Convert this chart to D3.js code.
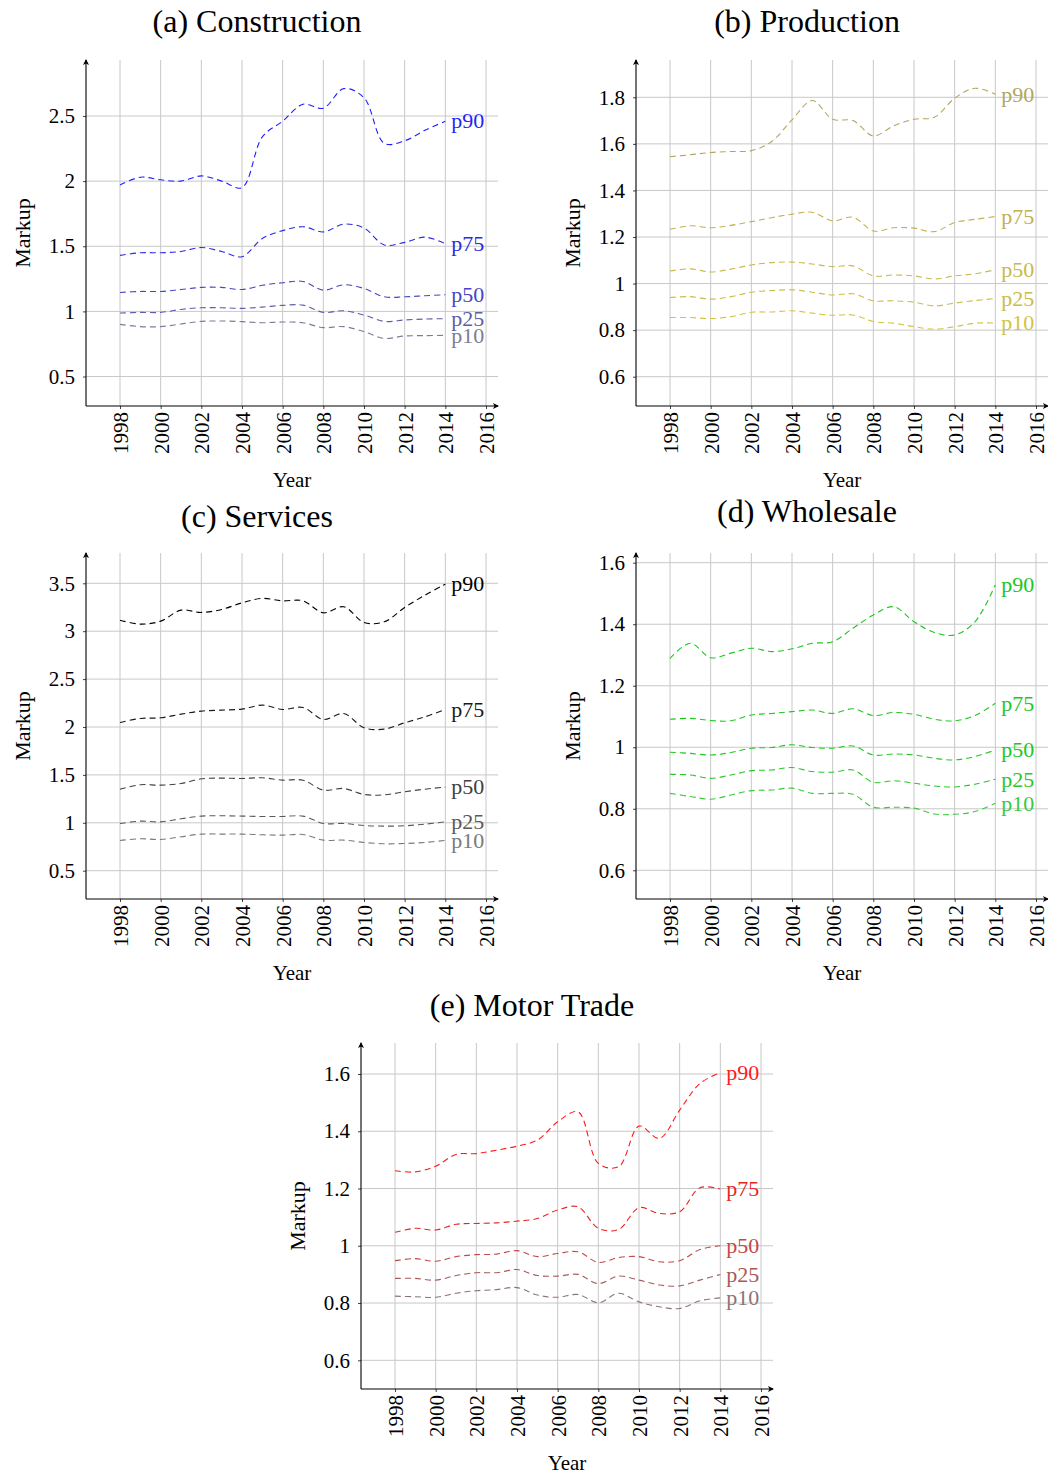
<!DOCTYPE html>
<html>
<head>
<meta charset="utf-8">
<script src="https://cdn.jsdelivr.net/npm/d3@7"></script>
<style>
  body { margin: 0; background: #fff; }
  text { font-family: "Liberation Serif", "Times New Roman", serif; }
</style>
</head>
<body>
<div id="chart"></div>
<script>
// Data
const years = [1998, 1999, 2000, 2001, 2002, 2003, 2004, 2005, 2006, 2007, 2008, 2009, 2010, 2011, 2012, 2013, 2014];
const xTicks = [1998, 2000, 2002, 2004, 2006, 2008, 2010, 2012, 2014, 2016];
const percentiles = ["p10", "p25", "p50", "p75", "p90"];

// (a) Construction
const construction_p90 = [1.97, 2.03, 2.01, 2.00, 2.04, 2.00, 1.95, 2.34, 2.46, 2.59, 2.56, 2.71, 2.64, 2.29, 2.31, 2.39, 2.46];
const construction_p75 = [1.43, 1.45, 1.45, 1.46, 1.49, 1.46, 1.42, 1.56, 1.62, 1.65, 1.61, 1.67, 1.64, 1.51, 1.53, 1.57, 1.52];
const construction_p50 = [1.145, 1.153, 1.153, 1.168, 1.184, 1.184, 1.168, 1.20, 1.22, 1.23, 1.163, 1.204, 1.176, 1.112, 1.112, 1.12, 1.128];
const construction_p25 = [0.987, 0.992, 0.992, 1.015, 1.028, 1.028, 1.023, 1.033, 1.046, 1.048, 0.992, 1.005, 0.972, 0.923, 0.934, 0.941, 0.944];
const construction_p10 = [0.90, 0.883, 0.883, 0.903, 0.923, 0.926, 0.921, 0.913, 0.918, 0.913, 0.875, 0.883, 0.844, 0.793, 0.811, 0.814, 0.816];
const construction_ticks = [0.5, 1, 1.5, 2, 2.5];

// (b) Production
const production_p90 = [1.545, 1.553, 1.563, 1.567, 1.571, 1.61, 1.703, 1.786, 1.706, 1.70, 1.634, 1.677, 1.706, 1.714, 1.796, 1.839, 1.813];
const production_p75 = [1.233, 1.248, 1.24, 1.25, 1.266, 1.283, 1.298, 1.306, 1.269, 1.285, 1.226, 1.24, 1.238, 1.223, 1.262, 1.276, 1.288];
const production_p50 = [1.054, 1.063, 1.05, 1.062, 1.08, 1.09, 1.092, 1.084, 1.073, 1.076, 1.033, 1.037, 1.033, 1.02, 1.033, 1.042, 1.059];
const production_p25 = [0.94, 0.944, 0.933, 0.944, 0.963, 0.97, 0.973, 0.963, 0.951, 0.956, 0.926, 0.926, 0.92, 0.904, 0.916, 0.927, 0.936];
const production_p10 = [0.854, 0.854, 0.85, 0.858, 0.877, 0.878, 0.883, 0.873, 0.864, 0.865, 0.837, 0.83, 0.815, 0.804, 0.815, 0.83, 0.83];
const production_ticks = [0.6, 0.8, 1, 1.2, 1.4, 1.6, 1.8];

// (c) Services
const services_p90 = [3.115, 3.074, 3.105, 3.22, 3.196, 3.227, 3.296, 3.342, 3.317, 3.317, 3.192, 3.255, 3.091, 3.098, 3.248, 3.376, 3.491];
const services_p75 = [2.047, 2.089, 2.096, 2.134, 2.166, 2.176, 2.187, 2.228, 2.183, 2.204, 2.079, 2.141, 1.992, 1.978, 2.044, 2.106, 2.183];
const services_p50 = [1.351, 1.397, 1.393, 1.41, 1.459, 1.466, 1.463, 1.47, 1.445, 1.445, 1.341, 1.358, 1.296, 1.292, 1.324, 1.351, 1.372];
const services_p25 = [0.993, 1.017, 1.01, 1.042, 1.07, 1.073, 1.07, 1.066, 1.066, 1.07, 0.993, 0.993, 0.972, 0.965, 0.969, 0.986, 1.01];
const services_p10 = [0.816, 0.833, 0.826, 0.854, 0.882, 0.882, 0.882, 0.875, 0.871, 0.878, 0.819, 0.819, 0.795, 0.781, 0.784, 0.795, 0.816];
const services_ticks = [0.5, 1, 1.5, 2, 2.5, 3, 3.5];

// (d) Wholesale
const wholesale_p90 = [1.289, 1.338, 1.291, 1.306, 1.322, 1.311, 1.32, 1.338, 1.343, 1.387, 1.43, 1.457, 1.408, 1.373, 1.365, 1.408, 1.528];
const wholesale_p75 = [1.091, 1.094, 1.087, 1.086, 1.105, 1.11, 1.116, 1.121, 1.11, 1.125, 1.103, 1.113, 1.107, 1.091, 1.086, 1.103, 1.143];
const wholesale_p50 = [0.984, 0.98, 0.975, 0.983, 0.997, 0.999, 1.008, 0.999, 0.997, 1.004, 0.975, 0.978, 0.975, 0.964, 0.959, 0.97, 0.991];
const wholesale_p25 = [0.912, 0.91, 0.899, 0.91, 0.924, 0.926, 0.934, 0.921, 0.919, 0.926, 0.886, 0.891, 0.883, 0.874, 0.871, 0.88, 0.896];
const wholesale_p10 = [0.85, 0.84, 0.831, 0.845, 0.859, 0.861, 0.867, 0.85, 0.85, 0.847, 0.805, 0.805, 0.802, 0.783, 0.782, 0.791, 0.818];
const wholesale_ticks = [0.6, 0.8, 1, 1.2, 1.4, 1.6];

// (e) Motor Trade
const motor_p90 = [1.262, 1.258, 1.278, 1.319, 1.322, 1.334, 1.348, 1.369, 1.433, 1.468, 1.288, 1.276, 1.418, 1.375, 1.474, 1.567, 1.605];
const motor_p75 = [1.047, 1.061, 1.055, 1.075, 1.078, 1.08, 1.086, 1.095, 1.125, 1.136, 1.061, 1.057, 1.133, 1.113, 1.119, 1.203, 1.198];
const motor_p50 = [0.948, 0.955, 0.946, 0.962, 0.969, 0.971, 0.983, 0.962, 0.973, 0.979, 0.942, 0.959, 0.962, 0.944, 0.948, 0.987, 1.0];
const motor_p25 = [0.886, 0.886, 0.88, 0.896, 0.906, 0.906, 0.917, 0.896, 0.894, 0.9, 0.868, 0.894, 0.88, 0.863, 0.86, 0.88, 0.9];
const motor_p10 = [0.824, 0.822, 0.82, 0.834, 0.843, 0.847, 0.854, 0.828, 0.82, 0.83, 0.801, 0.834, 0.804, 0.787, 0.781, 0.808, 0.818];
const motor_ticks = [0.6, 0.8, 1, 1.2, 1.4, 1.6];

// Panel layout (pixel placement of each sub-plot) and colours
const panels = [
    { title: "(a) Construction", ox: 86, top: 60, bottom: 406, yLow: 376.5, yHigh: 116, ticks: construction_ticks,
      series: [construction_p10, construction_p25, construction_p50, construction_p75, construction_p90],
      colors: ["#7c7c96", "#5e5ea8", "#4646c4", "#2a2ae6", "#1f1fff"], titleY: 32 },
    { title: "(b) Production", ox: 636, top: 60, bottom: 406, yLow: 376.7, yHigh: 97.3, ticks: production_ticks,
      series: [production_p10, production_p25, production_p50, production_p75, production_p90],
      colors: ["#d2c440", "#ccbc44", "#c9b94c", "#c2b052", "#b3a560"], titleY: 32 },
    { title: "(c) Services", ox: 86, top: 553, bottom: 899, yLow: 870.7, yHigh: 583.3, ticks: services_ticks,
      series: [services_p10, services_p25, services_p50, services_p75, services_p90],
      colors: ["#7a7a7a", "#5a5a5a", "#404040", "#1a1a1a", "#000000"], titleY: 527 },
    { title: "(d) Wholesale", ox: 636, top: 553, bottom: 899, yLow: 870.3, yHigh: 562.7, ticks: wholesale_ticks,
      series: [wholesale_p10, wholesale_p25, wholesale_p50, wholesale_p75, wholesale_p90],
      colors: ["#3cc83c", "#2ac82a", "#22c822", "#1ec81e", "#19c819"], titleY: 522 },
    { title: "(e) Motor Trade", ox: 361, top: 1043, bottom: 1389, yLow: 1360.3, yHigh: 1074, ticks: motor_ticks,
      series: [motor_p10, motor_p25, motor_p50, motor_p75, motor_p90],
      colors: ["#8c7474", "#a65a5a", "#c24848", "#e82424", "#ff1a1a"], titleY: 1016 }
];

const svg = d3.select("#chart").append("svg")
    .attr("width", 1048)
    .attr("height", 1475);

svg.append("defs").append("marker")
    .attr("id", "arrow")
    .attr("markerUnits", "userSpaceOnUse")
    .attr("markerWidth", 8)
    .attr("markerHeight", 8)
    .attr("refX", 5)
    .attr("refY", 3)
    .attr("orient", "auto")
    .append("path")
    .attr("d", "M0,0 L6,3 L0,6 L1.5,3 Z")
    .attr("fill", "#000");

const line = (x, y) => d3.line()
    .x((d, i) => x(years[i]))
    .y(d => y(d))
    .curve(d3.curveCatmullRom);

function drawPanel(p) {
    const g = svg.append("g");
    const right = p.ox + 412;
    const x = d3.scaleLinear().domain([1998, 2016]).range([p.ox + 34, p.ox + 400]);
    const y = d3.scaleLinear()
        .domain([p.ticks[0], p.ticks[p.ticks.length - 1]])
        .range([p.yLow, p.yHigh]);

    // grid
    g.append("g").selectAll("line").data(xTicks).join("line")
        .attr("x1", d => x(d)).attr("x2", d => x(d))
        .attr("y1", p.top).attr("y2", p.bottom)
        .attr("stroke", "#c8c8c8").attr("stroke-width", 1);
    g.append("g").selectAll("line").data(p.ticks).join("line")
        .attr("x1", p.ox).attr("x2", right)
        .attr("y1", d => y(d)).attr("y2", d => y(d))
        .attr("stroke", "#c8c8c8").attr("stroke-width", 1);

    // x axis ticks + labels
    const xa = g.append("g")
        .attr("transform", "translate(0," + p.bottom + ")")
        .call(d3.axisBottom(x).tickValues(xTicks).tickSize(3).tickFormat(d3.format("d")));
    xa.select(".domain").remove();
    xa.selectAll("line").attr("stroke", "#444");
    xa.selectAll("text")
        .attr("font-size", 21)
        .attr("font-family", "Liberation Serif")
        .attr("fill", "#000")
        .attr("transform", "rotate(-90)")
        .attr("text-anchor", "end")
        .attr("x", -6)
        .attr("y", 0)
        .attr("dy", "0.35em");

    // y axis ticks + labels
    const ya = g.append("g")
        .attr("transform", "translate(" + p.ox + ",0)")
        .call(d3.axisLeft(y).tickValues(p.ticks).tickSize(3).tickPadding(8).tickFormat(d => String(d)));
    ya.select(".domain").remove();
    ya.selectAll("line").attr("stroke", "#444");
    ya.selectAll("text")
        .attr("font-size", 21)
        .attr("font-family", "Liberation Serif")
        .attr("fill", "#000");

    // axis lines with arrows
    g.append("line")
        .attr("x1", p.ox).attr("x2", right)
        .attr("y1", p.bottom).attr("y2", p.bottom)
        .attr("stroke", "#000").attr("stroke-width", 1.1)
        .attr("marker-end", "url(#arrow)");
    g.append("line")
        .attr("x1", p.ox).attr("x2", p.ox)
        .attr("y1", p.bottom).attr("y2", p.top)
        .attr("stroke", "#000").attr("stroke-width", 1.1)
        .attr("marker-end", "url(#arrow)");

    // series
    p.series.forEach((s, i) => {
        g.append("path")
            .datum(s)
            .attr("fill", "none")
            .attr("stroke", p.colors[i])
            .attr("stroke-width", 1.1)
            .attr("stroke-dasharray", "6,4")
            .attr("d", line(x, y));
        g.append("text")
            .attr("x", x(years[years.length - 1]) + 6)
            .attr("y", y(s[s.length - 1]))
            .attr("dy", "0.33em")
            .attr("font-size", 22)
            .attr("fill", p.colors[i])
            .text(percentiles[i]);
    });

    // labels
    g.append("text")
        .attr("x", p.ox + 206)
        .attr("y", p.bottom + 81)
        .attr("text-anchor", "middle")
        .attr("font-size", 21)
        .text("Year");
    g.append("text")
        .attr("transform", "translate(" + (p.ox - 64) + "," + ((p.top + p.bottom) / 2) + ") rotate(-90)")
        .attr("text-anchor", "middle")
        .attr("dy", "0.35em")
        .attr("font-size", 22)
        .text("Markup");
    g.append("text")
        .attr("x", p.ox + 171)
        .attr("y", p.titleY)
        .attr("text-anchor", "middle")
        .attr("font-size", 32)
        .text(p.title);
}

panels.forEach(drawPanel);
</script>
</body>
</html>
